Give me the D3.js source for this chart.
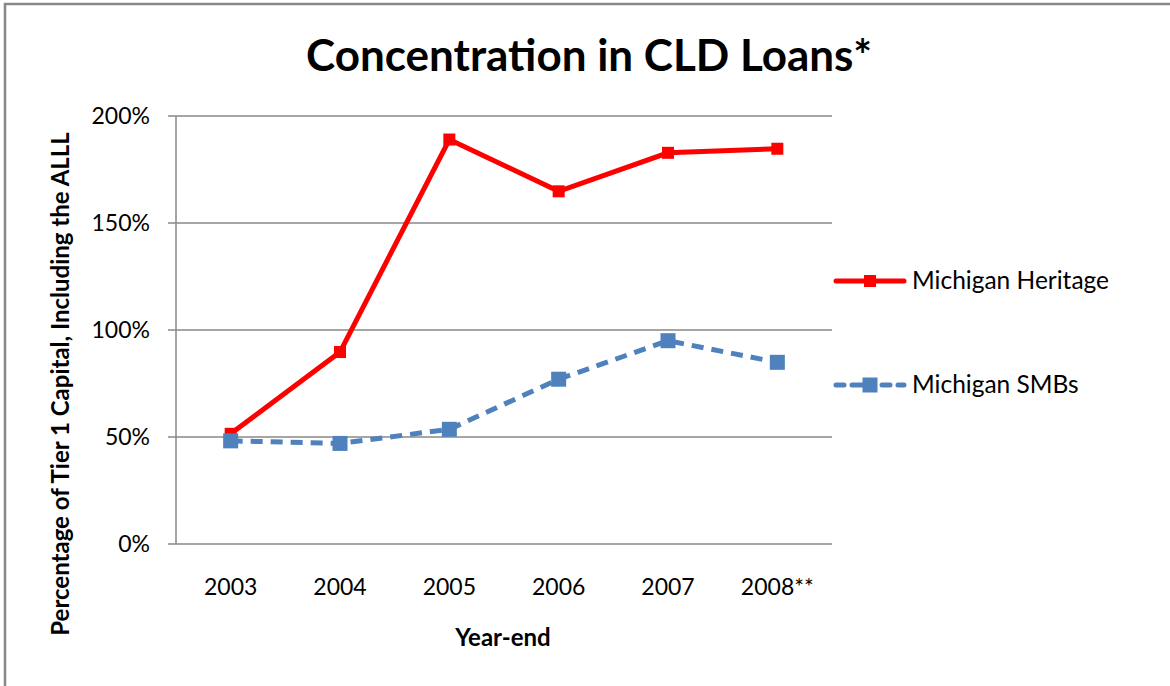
<!DOCTYPE html>
<html>
<head>
<meta charset="utf-8">
<script src="https://cdn.jsdelivr.net/npm/d3@7"></script>
<style>
  body { margin: 0; background: #fff; }
  text { font-family: Lato, "Open Sans", sans-serif; fill: #000; }
</style>
</head>
<body>
<script>
const years = ["2003", "2004", "2005", "2006", "2007", "2008**"];
const heritage = [51.5, 89.7, 189, 164.8, 182.8, 184.7];
const smbs = [48.2, 47, 53.6, 77, 95, 84.9];
const yTicks = [0, 50, 100, 150, 200];

const w = 1170;
const h = 686;

const svg = d3.select("body").append("svg").attr("width", w).attr("height", h);

// outer frame
svg
  .append("rect")
  .attr("x", 5)
  .attr("y", 4)
  .attr("width", w + 20)
  .attr("height", h + 20)
  .attr("fill", "none")
  .attr("stroke", "#888")
  .attr("stroke-width", 2.5);

const plotLeft = 176;
const plotRight = 832;
const plotTop = 116;
const plotBottom = 544;

const x = d3.scaleBand().domain(years).range([plotLeft, plotRight]);
const y = d3.scaleLinear().domain([0, 200]).range([plotBottom, plotTop]);

// gridlines
svg
  .selectAll(".grid")
  .data(yTicks)
  .enter()
  .append("line")
  .attr("x1", plotLeft - 8)
  .attr("x2", plotRight)
  .attr("y1", (d) => y(d))
  .attr("y2", (d) => y(d))
  .attr("stroke", "#888")
  .attr("stroke-width", 1.5);

svg
  .append("line")
  .attr("x1", plotLeft)
  .attr("x2", plotLeft)
  .attr("y1", plotTop)
  .attr("y2", plotBottom)
  .attr("stroke", "#888")
  .attr("stroke-width", 1.5);

svg
  .selectAll(".ytick")
  .data(yTicks)
  .enter()
  .append("text")
  .attr("x", plotLeft - 26)
  .attr("y", (d) => y(d) + 8)
  .attr("text-anchor", "end")
  .style("font-size", "23px")
  .text((d) => d + "%");

svg
  .selectAll(".xtick")
  .data(years)
  .enter()
  .append("text")
  .attr("x", (d) => x(d) + x.bandwidth() / 2)
  .attr("y", 595)
  .attr("text-anchor", "middle")
  .style("font-size", "23px")
  .text((d) => d);

// titles
svg
  .append("text")
  .attr("x", 589)
  .attr("y", 71)
  .attr("text-anchor", "middle")
  .style("font-size", "44px")
  .style("font-weight", "bold")
  .text("Concentration in CLD Loans*");

svg
  .append("text")
  .attr("x", 503)
  .attr("y", 646)
  .attr("text-anchor", "middle")
  .style("font-size", "24px")
  .style("font-weight", "bold")
  .text("Year-end");

svg
  .append("text")
  .attr("transform", "translate(69,384) rotate(-90)")
  .attr("text-anchor", "middle")
  .style("font-size", "24px")
  .style("font-weight", "bold")
  .text("Percentage of Tier 1 Capital, Including the ALLL");

const cx = (d, i) => x(years[i]) + x.bandwidth() / 2;

const series = [
  { name: "Michigan Heritage", values: heritage, color: "#ff0000", dash: null, size: 12, ly: 281 },
  { name: "Michigan SMBs", values: smbs, color: "#4f81bd", dash: "12,8", size: 15, ly: 385 },
];

series.forEach((s) => {
  const line = d3
    .line()
    .x(cx)
    .y((d) => y(d));

  svg
    .append("path")
    .datum(s.values)
    .attr("d", line)
    .attr("fill", "none")
    .attr("stroke", s.color)
    .attr("stroke-width", 5)
    .attr("stroke-dasharray", s.dash);

  svg
    .selectAll(null)
    .data(s.values)
    .enter()
    .append("rect")
    .attr("x", (d, i) => cx(d, i) - s.size / 2)
    .attr("y", (d) => y(d) - s.size / 2)
    .attr("width", s.size)
    .attr("height", s.size)
    .attr("fill", s.color);

  // legend
  svg
    .append("line")
    .attr("x1", 836)
    .attr("x2", 904)
    .attr("y1", s.ly)
    .attr("y2", s.ly)
    .attr("stroke", s.color)
    .attr("stroke-width", 5)
    .attr("stroke-dasharray", s.dash ? "8,8,22,8,8" : null)
    .attr("stroke-linecap", "round");

  svg
    .append("rect")
    .attr("x", 870 - s.size / 2)
    .attr("y", s.ly - s.size / 2)
    .attr("width", s.size)
    .attr("height", s.size)
    .attr("fill", s.color);

  svg
    .append("text")
    .attr("x", 912)
    .attr("y", s.ly + 8)
    .style("font-size", "24.5px")
    .text(s.name);
});
</script>
</body>
</html>
